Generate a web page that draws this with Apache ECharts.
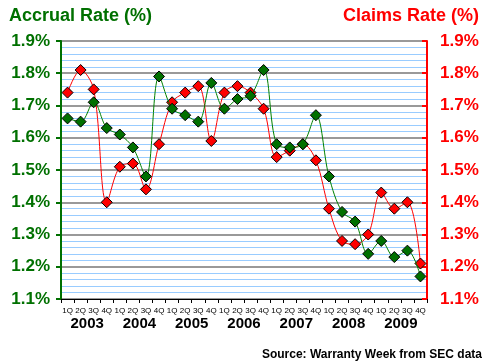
<!DOCTYPE html>
<html><head><meta charset="utf-8">
<script src="https://cdn.jsdelivr.net/npm/echarts@6/dist/echarts.min.js"></script>
<style>html,body{margin:0;padding:0;background:#fff}#c{width:490px;height:363px}</style>
</head><body><div id="c"></div>
<script>
const quarters = ['1Q','2Q','3Q','4Q','1Q','2Q','3Q','4Q','1Q','2Q','3Q','4Q','1Q','2Q','3Q','4Q','1Q','2Q','3Q','4Q','1Q','2Q','3Q','4Q','1Q','2Q','3Q','4Q'];
const years = ['2003','2004','2005','2006','2007','2008','2009'];
const accrualRate = [1.66,1.65,1.71,1.63, 1.61,1.57,1.48,1.79, 1.69,1.67,1.65,1.77, 1.69,1.72,1.73,1.81, 1.58,1.57,1.58,1.67, 1.48,1.37,1.34,1.24, 1.28,1.23,1.25,1.17];
const claimsRate = [1.74,1.81,1.75,1.40, 1.51,1.52,1.44,1.58, 1.71,1.74,1.76,1.59, 1.74,1.76,1.74,1.69, 1.54,1.56,1.58,1.53, 1.38,1.28,1.27,1.30, 1.43,1.38,1.40,1.21];
const yTicks = [1.1,1.2,1.3,1.4,1.5,1.6,1.7,1.8,1.9];

const GREEN = '#007000', RED = '#ff0000';
const font = 'Liberation Sans, Arial, sans-serif';
const chart = echarts.init(document.getElementById('c'), null, {renderer:'canvas'});
const fmt = v => { const t = yTicks.find(x => Math.abs(x - v) < 1e-6); return (t !== undefined ? t : v).toFixed(1) + '%'; };
chart.setOption({
  animation:false,
  backgroundColor:'#fff',
  grid:{left:61,right:63,top:41,bottom:64},
  title:[
    {text:'Accrual Rate (%)',left:4,top:2,textStyle:{color:GREEN,fontSize:18,fontWeight:'bold',fontFamily:font}},
    {text:'Claims Rate (%)',right:6,top:2,textStyle:{color:RED,fontSize:18,fontWeight:'bold',fontFamily:font}},
    {text:'Source: Warranty Week from SEC data',right:3,top:344,textStyle:{color:'#000',fontSize:12,fontWeight:'bold',fontFamily:font}}
  ],
  xAxis:[
    {type:'category',data:quarters,boundaryGap:true,position:'bottom',
     axisLine:{lineStyle:{color:'#000',width:1}},
     axisTick:{show:true,length:4,lineStyle:{color:'#000'}},
     axisLabel:{color:'#000',fontSize:8,fontFamily:font,margin:8,interval:0}},
    {type:'category',data:years,boundaryGap:true,position:'bottom',offset:17,
     axisLine:{show:false},axisTick:{show:false},
     axisLabel:{color:'#000',fontSize:15,fontWeight:'bold',fontFamily:font,margin:0,interval:0}}
  ],
  yAxis:[
    {type:'value',min:1.1,max:1.9,interval:0.1,position:'left',
     axisLine:{show:true,lineStyle:{color:GREEN,width:2}},
     axisTick:{show:true,length:5,lineStyle:{color:GREEN,width:2}},
     axisLabel:{color:GREEN,fontSize:17,fontWeight:'bold',fontFamily:font,formatter:fmt,margin:11},
     splitLine:{show:true,lineStyle:{color:'#999999',width:2}},
     minorTick:{show:false,splitNumber:5},
     minorSplitLine:{show:true,lineStyle:{color:'#99ccff',width:1}}},
    {type:'value',min:1.1,max:1.9,interval:0.1,position:'right',
     axisLine:{show:true,lineStyle:{color:RED,width:2}},
     axisTick:{show:true,inside:true,length:5,lineStyle:{color:RED,width:2}},
     axisLabel:{color:RED,fontSize:17,fontWeight:'bold',fontFamily:font,formatter:fmt,margin:13},
     splitLine:{show:false}}
  ],
  series:[
    {name:'Claims',type:'line',data:claimsRate,xAxisIndex:0,yAxisIndex:1,smooth:0.35,
     lineStyle:{color:RED,width:1},symbol:'diamond',symbolSize:11,
     itemStyle:{color:RED,borderColor:'#000',borderWidth:1},z:3},
    {name:'Accrual',type:'line',data:accrualRate,xAxisIndex:0,yAxisIndex:0,smooth:0.35,
     lineStyle:{color:'#008000',width:1},symbol:'diamond',symbolSize:11,
     itemStyle:{color:GREEN,borderColor:'#000',borderWidth:1},z:4}
  ]
});
</script></body></html>
